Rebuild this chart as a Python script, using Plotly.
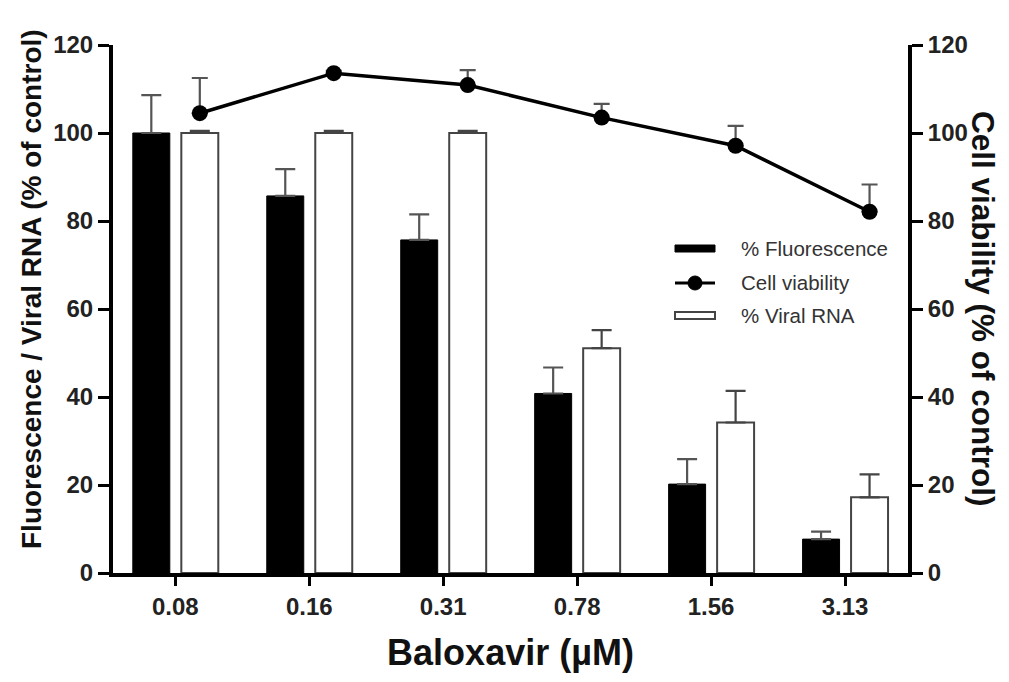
import plotly.graph_objects as go
import numpy as np

# ---- data ----
concentrations = ["0.08", "0.16", "0.31", "0.78", "1.56", "3.13"]
fluorescence = [100.0, 85.7, 75.7, 40.8, 20.2, 7.7]
fluorescence_err = [8.6, 6.1, 5.8, 5.9, 5.7, 1.7]
viral_rna = [100.0, 100.0, 100.0, 51.1, 34.2, 17.2]
viral_rna_err = [0.5, 0.5, 0.5, 4.1, 7.2, 5.2]
cell_viability = [104.5, 113.6, 110.9, 103.5, 97.1, 82.1]
cell_viability_err = [8.0, 0.5, 3.4, 3.1, 4.5, 6.2]

FONT = "Liberation Sans, Arial, Helvetica, sans-serif"
idx = np.arange(len(concentrations))
BAR_W = 0.276
LEFT_OFF = -0.317
RIGHT_OFF = 0.045
line_x = idx + RIGHT_OFF + BAR_W / 2

fig = go.Figure()
fig.add_trace(go.Bar(
    x=idx, y=fluorescence, width=BAR_W, offset=LEFT_OFF,
    marker=dict(color="black", line=dict(color="black", width=1)),
    error_y=dict(type="data", array=fluorescence_err, arrayminus=[0]*6, symmetric=False,
                 color="#555555", thickness=2.2, width=10),
    name="% Fluorescence", showlegend=False,
))
fig.add_trace(go.Bar(
    x=idx, y=viral_rna, width=BAR_W, offset=RIGHT_OFF,
    marker=dict(color="white", line=dict(color="#444444", width=2)),
    error_y=dict(type="data", array=viral_rna_err, arrayminus=[0]*6, symmetric=False,
                 color="#444444", thickness=2.2, width=10),
    name="% Viral RNA", showlegend=False,
))
fig.add_trace(go.Scatter(
    x=line_x, y=cell_viability, yaxis="y2", mode="lines+markers",
    line=dict(color="black", width=3.5),
    marker=dict(color="black", size=16),
    error_y=dict(type="data", array=cell_viability_err, arrayminus=[0]*6, symmetric=False,
                 color="#555555", thickness=2.2, width=8),
    name="Cell viability", showlegend=False,
))

L, R, T, B = 113, 908, 45, 573
W, H = 1009, 682
def px(x):
    return (x - L) / (R - L)
def py(y):
    return (B - y) / (B - T)

shapes = [
    dict(type="rect", xref="paper", yref="paper", x0=px(675), x1=px(715), y0=py(252), y1=py(245),
         fillcolor="black", line=dict(color="black", width=1)),
    dict(type="line", xref="paper", yref="paper", x0=px(675), x1=px(715), y0=py(283), y1=py(283),
         line=dict(color="black", width=3)),
    dict(type="circle", xref="paper", yref="paper", x0=px(688), x1=px(702), y0=py(290), y1=py(276),
         fillcolor="black", line=dict(color="black", width=1)),
    dict(type="rect", xref="paper", yref="paper", x0=px(675), x1=px(715), y0=py(319), y1=py(312),
         fillcolor="white", line=dict(color="#444444", width=2)),
]
annotations = [
    dict(text=t, x=px(739), y=py(yy), xref="paper", yref="paper", xanchor="left", yanchor="middle",
         showarrow=False, font=dict(family=FONT, size=20.5, color="#333333"))
    for t, yy in [("% Fluorescence", 248), ("Cell viability", 282), ("% Viral RNA", 316)]
]
annotations += [
    dict(text="Fluorescence / Viral RNA (% of control)", x=px(31), y=py(289),
         xref="paper", yref="paper", xanchor="center", yanchor="middle", textangle=-90,
         showarrow=False, font=dict(family=FONT, size=28, color="#111111", weight="bold")),
    dict(text="Cell viability (% of control)", x=px(983), y=py(309),
         xref="paper", yref="paper", xanchor="center", yanchor="middle", textangle=90,
         showarrow=False, font=dict(family=FONT, size=31.5, color="#111111", weight="bold")),
]

axis_common = dict(showline=True, linecolor="black", linewidth=4, ticks="outside",
                   tickwidth=3, tickcolor="black", showgrid=False, zeroline=False,
                   tickfont=dict(family=FONT, size=24, color="#222222", weight="bold"))

fig.update_layout(
    width=W, height=H, margin=dict(l=L, r=W - R, t=T, b=H - B),
    paper_bgcolor="white", plot_bgcolor="white",
    barmode="overlay", showlegend=False,
    xaxis=dict(range=[-0.465, 5.47], tickmode="array", tickvals=idx, ticktext=concentrations,
               ticklen=9, **axis_common,
               title=dict(text="Baloxavir (µM)", standoff=22,
                          font=dict(family=FONT, size=36, color="#111111", weight="bold"))),
    yaxis=dict(range=[0, 120], dtick=20, ticklen=11, **axis_common),
    yaxis2=dict(range=[0, 120], dtick=20, ticklen=11, overlaying="y", side="right", **axis_common),
    shapes=shapes, annotations=annotations,
)

fig.write_html("out.html")
